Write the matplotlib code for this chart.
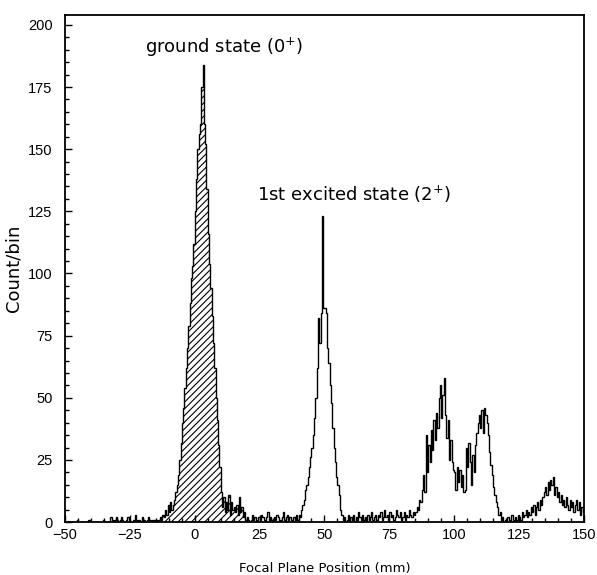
import numpy as np
import matplotlib
matplotlib.use("Agg")
import matplotlib.pyplot as plt

# focal plane histogram, 0.5 mm bins from -50 to 150 mm
bin_lo, bin_hi, bin_w = -50.0, 150.0, 0.5

counts = [
    # -50 .. -40.5
    0, 0, 0, 0, 0, 0, 0, 0, 0, 1, 0, 0, 0, 0, 0, 0, 0, 0, 1, 0,
    # -40 .. -30.5
    0, 0, 0, 0, 0, 0, 0, 0, 0, 1, 0, 0, 0, 0, 0, 2, 1, 0, 1, 2,
    # -30 .. -20.5
    1, 0, 1, 2, 1, 0, 0, 1, 2, 1, 0, 0, 1, 0, 3, 1, 0, 1, 0, 2,
    # -20 .. -10.5
    0, 1, 0, 1, 2, 1, 0, 1, 1, 0, 1, 0, 1, 2, 1, 3, 2, 5, 3, 7,
    # -10 .. -0.5
    4, 8, 5, 7, 9, 12, 15, 19, 25, 32, 40, 46, 54, 62, 70, 79, 88, 98, 103, 112,
    # 0 .. 9.5
    125, 138, 150, 156, 160, 175, 184, 160, 152, 134, 116, 104, 94, 83, 72, 62, 50, 41, 31, 22,
    # 10 .. 19.5
    12, 6, 10, 4, 8, 5, 11, 3, 8, 5, 6, 4, 7, 3, 10, 4, 6, 2, 4, 1,
    # 20 .. 29.5
    2, 1, 0, 1, 3, 1, 2, 0, 1, 2, 1, 3, 2, 1, 0, 2, 4, 1, 2, 1,
    # 30 .. 39.5
    1, 2, 1, 3, 2, 0, 1, 2, 4, 1, 2, 3, 1, 2, 1, 0, 2, 1, 3, 1,
    # 40 .. 49.5
    3, 2, 5, 7, 9, 13, 15, 18, 22, 26, 30, 35, 42, 50, 62, 82, 72, 84, 123, 86,
    # 50 .. 59.5
    86, 84, 70, 64, 55, 48, 38, 30, 24, 18, 15, 11, 5, 3, 1, 2, 0, 1, 3, 1,
    # 60 .. 69.5
    2, 1, 3, 0, 2, 1, 4, 2, 1, 3, 1, 2, 0, 3, 1, 2, 4, 1, 2, 3,
    # 70 .. 79.5
    1, 3, 2, 4, 1, 2, 5, 2, 3, 1, 4, 2, 3, 1, 2, 5, 3, 2, 4, 1,
    # 80 .. 89.5
    2, 4, 1, 3, 2, 5, 3, 2, 4, 3, 4, 6, 5, 9, 8, 13, 19, 12, 35, 20,
    # 90 .. 99.5
    31, 24, 37, 29, 41, 33, 44, 38, 50, 55, 42, 51, 58, 43, 34, 41, 25, 33, 24, 21,
    # 100 .. 109.5
    20, 13, 22, 16, 21, 14, 19, 12, 13, 30, 22, 32, 24, 15, 27, 20, 31, 36, 40, 43,
    # 110 .. 119.5
    38, 45, 36, 46, 43, 40, 35, 28, 23, 19, 14, 11, 8, 6, 3, 4, 1, 2, 0, 1,
    # 120 .. 129.5
    0, 2, 1, 0, 3, 1, 0, 2, 1, 3, 2, 1, 4, 2, 3, 5, 2, 4, 3, 6,
    # 130 .. 139.5
    4, 7, 3, 6, 8, 5, 9, 7, 10, 12, 14, 11, 16, 13, 17, 15, 18, 11, 14, 10,
    # 140 .. 149.5
    12, 8, 11, 7, 9, 6, 10, 7, 5, 9, 6, 8, 4, 7, 9, 5, 8, 3, 6, 4,
]

# ground state window that is shaded
gs_lo, gs_hi = -12.5, 20.5

labels = ["ground state (0$^{+}$)", "1st excited state (2$^{+}$)"]
label_x = [11.5, 61.5]
label_y = [191, 132]

counts = np.array(counts, dtype=float)
edges = np.arange(bin_lo, bin_hi + bin_w / 2, bin_w)

plt.rcParams["font.family"] = ["Liberation Sans", "DejaVu Sans"]
plt.rcParams["mathtext.fontset"] = "custom"
plt.rcParams["mathtext.rm"] = "DejaVu Sans"
plt.rcParams["hatch.linewidth"] = 0.8

fig = plt.figure(figsize=(5.97, 5.75), dpi=100)
ax = fig.add_axes([0.109, 0.092, 0.869, 0.882])

i0 = int(round((gs_lo - bin_lo) / bin_w))
i1 = int(round((gs_hi - bin_lo) / bin_w))
ax.stairs(counts[i0:i1], edges[i0:i1 + 1], fill=True, facecolor="none",
          edgecolor="black", hatch="/////", linewidth=0)
ax.stairs(counts, edges, color="black", linewidth=1.0)

for t, x, y in zip(labels, label_x, label_y):
    ax.text(x, y, t, ha="center", va="center", fontsize=13,
            family="DejaVu Sans", color="black")

ax.set_xlim(-50, 150)
ax.set_ylim(0, 204)
ax.set_xticks(np.arange(-50, 151, 25))
ax.set_xticks(np.arange(-50, 151, 5), minor=True)
ax.set_yticks(np.arange(0, 201, 25))
ax.set_yticks(np.arange(0, 201, 5), minor=True)
ax.set_xticklabels(["\u221250", "\u221225", "0", "25", "50", "75", "100", "125", "150"])
ax.tick_params(which="both", direction="in", top=False, right=False, labelsize=10.5)
ax.tick_params(which="major", length=5, width=1)
ax.tick_params(which="minor", length=3, width=1)
ax.tick_params(axis="x", pad=4)
ax.tick_params(axis="y", pad=9)
for s in ax.spines.values():
    s.set_linewidth(1.3)

ax.set_xlabel("Focal Plane Position (mm)", fontsize=9.5, labelpad=15,
              family="DejaVu Sans")
ax.set_ylabel("Count/bin", fontsize=13, labelpad=4, family="DejaVu Sans")

fig.savefig("out.png", dpi=100)
